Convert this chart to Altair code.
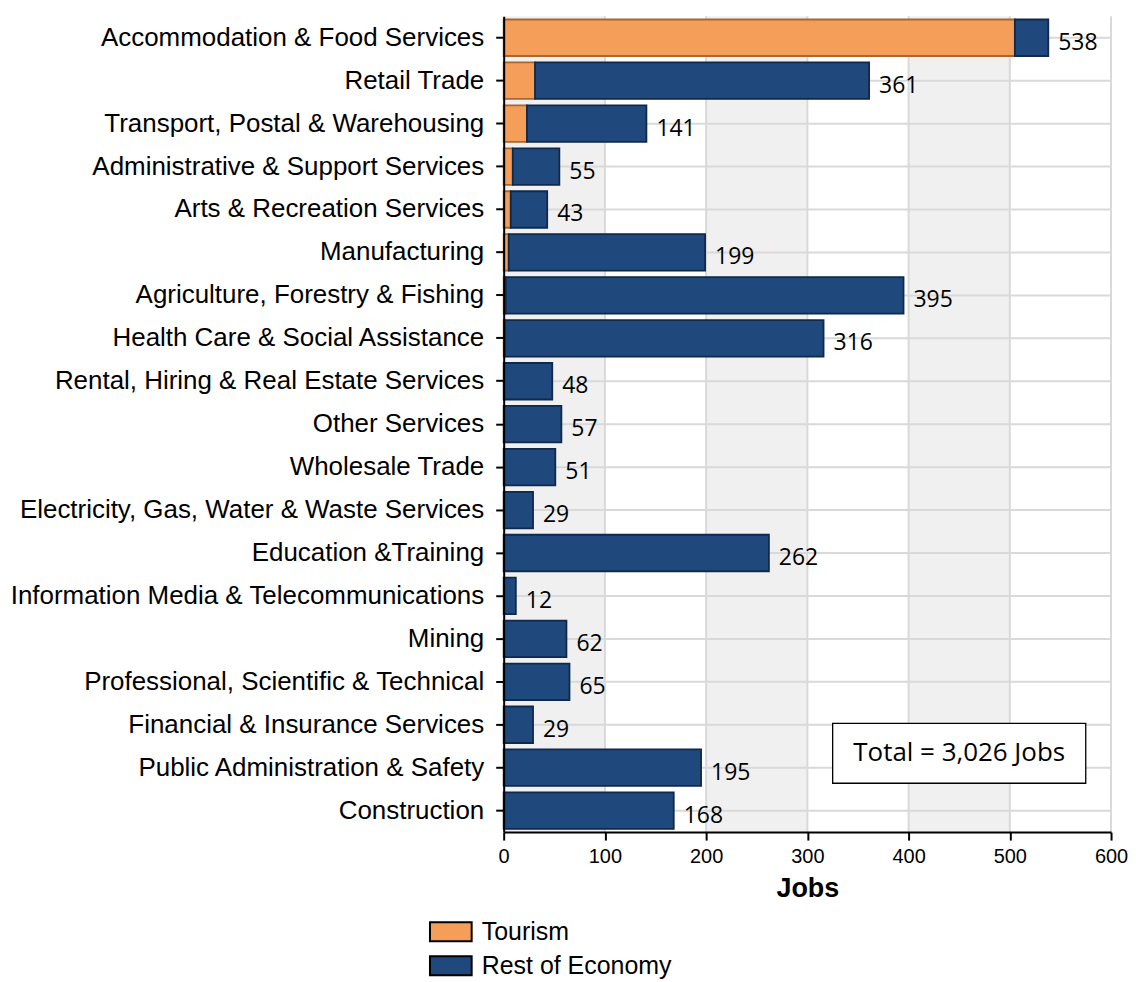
import altair as alt
import pandas as pd

categories = [
    "Accommodation & Food Services",
    "Retail Trade",
    "Transport, Postal & Warehousing",
    "Administrative & Support Services",
    "Arts & Recreation Services",
    "Manufacturing",
    "Agriculture, Forestry & Fishing",
    "Health Care & Social Assistance",
    "Rental, Hiring & Real Estate Services",
    "Other Services",
    "Wholesale Trade",
    "Electricity, Gas, Water & Waste Services",
    "Education &Training",
    "Information Media & Telecommunications",
    "Mining",
    "Professional, Scientific & Technical",
    "Financial & Insurance Services",
    "Public Administration & Safety",
    "Construction",
]
tourism = [505, 31, 23, 9, 7, 5, 2, 1, 0, 0, 0, 0, 0, 0, 0, 0, 0, 0, 0]
totals = [538, 361, 141, 55, 43, 199, 395, 316, 48, 57, 51, 29, 262, 12, 62, 65, 29, 195, 168]
series_names = ["Tourism", "Rest of Economy"]
x_ticks = [0, 100, 200, 300, 400, 500, 600]
shade_starts = [0, 200, 400]
shade_ends = [100, 300, 500]
total_text = "Total = 3,026 Jobs"

ORANGE = "#F59E5A"
ORANGE_EDGE = "#A8672F"
NAVY = "#1F497D"
NAVY_EDGE = "#10294A"
GRID = "#D9D9D9"
SHADE = "#F0F0F0"

rows = []
for c, t, tot in zip(categories, tourism, totals):
    if t > 0:
        rows.append({"Industry": c, "Series": "Tourism", "Jobs": t, "ord": 0})
    rows.append({"Industry": c, "Series": "Rest of Economy", "Jobs": tot - t, "ord": 1})
bars_df = pd.DataFrame(rows)
totals_df = pd.DataFrame({"Industry": categories, "Total": totals})
shade_df = pd.DataFrame({"start": shade_starts, "end": shade_ends})
grid_df = pd.DataFrame({"tick": x_ticks[1:]})
note_df = pd.DataFrame({"label": [total_text]})

y_enc = alt.Y(
    "Industry:N",
    sort=categories,
    scale=alt.Scale(paddingInner=0.15, paddingOuter=0.075),
    axis=alt.Axis(
        title=None,
        labelFont="Liberation Sans",
        labelFontSize=26,
        labelColor="black",
        labelPadding=12,
        labelLimit=0,
        tickColor="black",
        tickSize=8,
        tickWidth=2,
        domainColor="black",
        domainWidth=2,
        grid=False,
        zindex=1,
    ),
)

x_scale = alt.Scale(domain=[0, 600], nice=False)

shade = alt.Chart(shade_df).mark_rect(color=SHADE).encode(
    x=alt.X("start:Q", scale=x_scale),
    x2="end:Q",
)

vgrid = alt.Chart(grid_df).mark_rule(color=GRID, strokeWidth=2).encode(
    x=alt.X("tick:Q", scale=x_scale)
)

hgrid = alt.Chart(totals_df).mark_rule(color=GRID, strokeWidth=2).encode(
    y=y_enc,
    x=alt.datum(0),
    x2=alt.datum(600),
)

bars = alt.Chart(bars_df).mark_bar(strokeWidth=1.8, opacity=1).encode(
    y=y_enc,
    x=alt.X(
        "Jobs:Q",
        stack="zero",
        scale=x_scale,
        title="Jobs",
        axis=alt.Axis(
            values=x_ticks,
            labelFont="Liberation Sans",
            labelFontSize=20,
            labelColor="black",
            labelPadding=6,
            labelFlush=False,
            tickColor="black",
            tickSize=8,
            tickWidth=2,
            domainColor="black",
            domainWidth=2,
            grid=False,
            zindex=1,
            titleFont="Liberation Sans",
            titleFontSize=27,
            titleFontWeight="bold",
            titleColor="black",
            titlePadding=10,
        ),
    ),
    color=alt.Color(
        "Series:N",
        scale=alt.Scale(domain=series_names, range=[ORANGE, NAVY]),
        legend=alt.Legend(
            title=None,
            orient="none",
            legendX=-73,
            legendY=898,
            symbolType="M-1.1,-0.5L1.1,-0.5L1.1,0.5L-1.1,0.5Z",
            symbolSize=1444,
            symbolStrokeColor="black",
            symbolStrokeWidth=2,
            symbolOpacity=1,
            labelFont="Liberation Sans",
            labelFontSize=25,
            labelColor="black",
            labelOffset=11,
            labelLimit=0,
            rowPadding=0,
        ),
    ),
    stroke=alt.condition(
        alt.datum.Series == "Tourism", alt.value(ORANGE_EDGE), alt.value(NAVY_EDGE)
    ),
    order=alt.Order("ord:Q"),
)

labels = alt.Chart(totals_df).mark_text(
    align="left", baseline="middle", dx=10, dy=5, font="Open Sans", fontSize=23, color="black"
).encode(
    y=y_enc,
    x=alt.X("Total:Q", scale=x_scale),
    text="Total:Q",
)

box = alt.Chart(note_df).mark_rect(fill="white", stroke="black", strokeWidth=1.3).encode(
    x=alt.datum(325),
    x2=alt.datum(575),
    y=alt.value(709),
    y2=alt.value(769),
)

box_text = alt.Chart(note_df).mark_text(
    align="center", baseline="middle", font="Open Sans", fontSize=26, color="black"
).encode(
    x=alt.datum(450),
    y=alt.value(739),
    text="label:N",
)

chart = (
    alt.layer(shade, vgrid, hgrid, bars, labels, box, box_text)
    .properties(width=609, height=818, padding={"left": 1, "top": 6, "right": 0, "bottom": 5})
    .configure_view(stroke=None)
)

chart.save("out.html", embed_options={"renderer": "svg", "actions": False})
